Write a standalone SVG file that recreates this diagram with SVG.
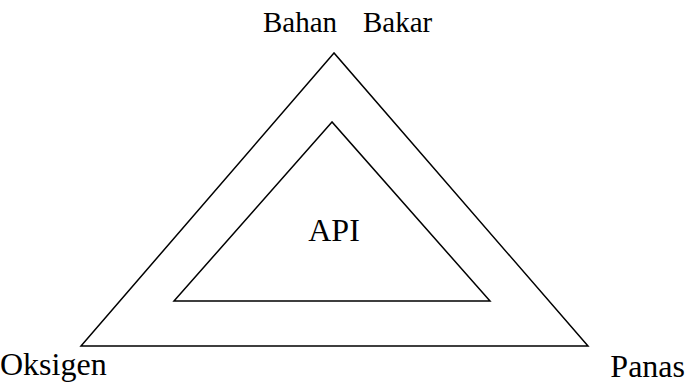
<svg xmlns="http://www.w3.org/2000/svg" width="688" height="383" viewBox="0 0 688 383">
  <style>
    .edge { fill: none; stroke: #000; stroke-width: 1.5; stroke-linejoin: miter; }
    .label { font-family: "Liberation Serif", "Times New Roman", serif; font-size: 32px; fill: #000; }
    .top { font-size: 29px; }
  </style>
  <rect width="688" height="383" fill="#fff"/>
  <g id="connectors">
    <polygon id="outer-triangle" class="edge" points="334,53 81,346 588,346"/>
    <polygon id="inner-triangle" class="edge" points="332,122 174,301 490,301"/>
  </g>
  <g id="node-bahan-bakar">
    <text class="label top" y="32"><tspan x="263">Bahan</tspan><tspan x="363">Bakar</tspan></text>
  </g>
  <g id="node-oksigen">
    <text class="label" x="0" y="375">Oksigen</text>
  </g>
  <g id="node-panas">
    <text class="label" x="685" y="377" text-anchor="end">Panas</text>
  </g>
  <g id="node-api">
    <text class="label" x="334" y="241" text-anchor="middle">API</text>
  </g>
</svg>
